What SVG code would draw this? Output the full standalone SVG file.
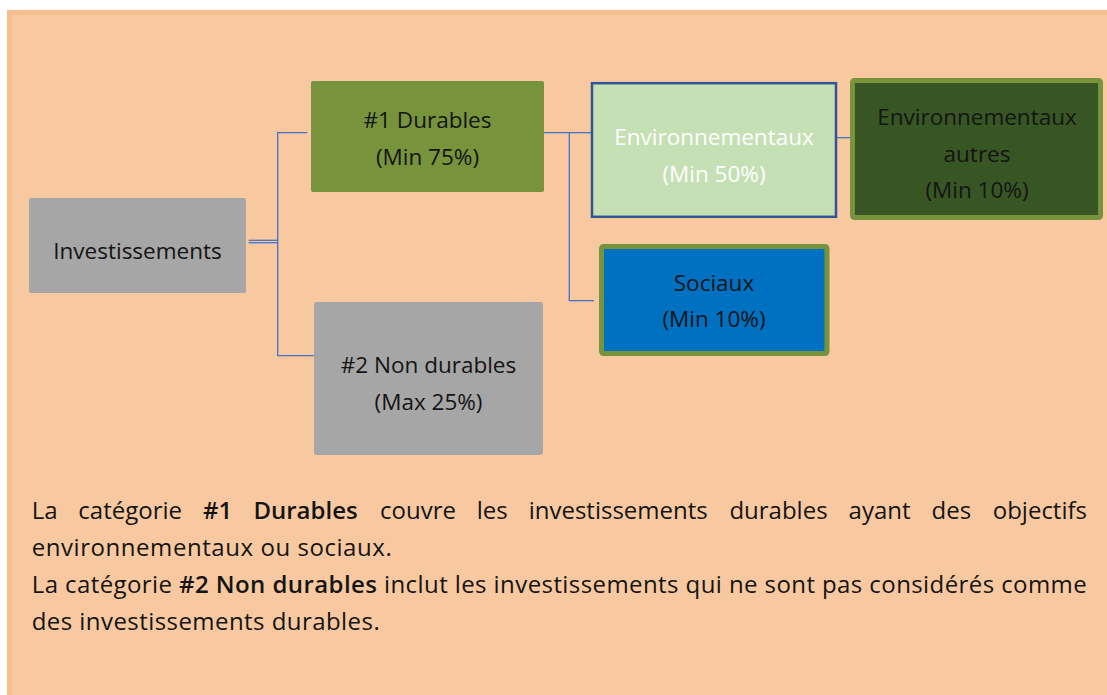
<svg xmlns="http://www.w3.org/2000/svg" width="1107" height="695" viewBox="0 0 1107 695">
<style>
  .t { font-family: "Open Sans", "Noto Sans", "Liberation Sans", sans-serif; font-size: 22.5px; fill: #141414; text-anchor: middle; }
  .w { fill: #FFFFFF; }
  .p { font-family: "Open Sans", "Noto Sans", "Liberation Sans", sans-serif; font-size: 24px; fill: #141414; }
  .b { font-weight: 600; }
  .c { fill: none; stroke: #4472C4; stroke-width: 1.3; }
</style>
<rect x="0" y="0" width="1107" height="695" fill="#FFFFFF"/>
<rect x="9.5" y="12.5" width="1102" height="690" fill="#F8C9A0" stroke="#F7BE8F" stroke-width="5"/>

<g id="connectors">
  <line class="c" x1="248.7" y1="240.3" x2="277.7" y2="240.3"/>
  <line class="c" x1="248.7" y1="242.7" x2="277.7" y2="242.7"/>
  <polyline class="c" points="307.3,132.7 277.7,132.7 277.7,355.7 315,355.7"/>
  <line class="c" x1="544" y1="132.7" x2="591" y2="132.7"/>
  <polyline class="c" points="569.3,132.7 569.3,300.7 594,300.7"/>
  <line class="c" x1="837" y1="137.7" x2="850" y2="137.7"/>
</g>

<g id="investissements">
  <rect x="29" y="198" width="217" height="95" rx="2" fill="#A6A6A6"/>
  <text class="t" x="137.5" y="259">Investissements</text>
</g>

<g id="durables">
  <rect x="311" y="81" width="233" height="111" rx="2" fill="#77933C"/>
  <text class="t" x="427.5" y="128">#1 Durables</text>
  <text class="t" x="427.5" y="165">(Min 75%)</text>
</g>

<g id="non-durables">
  <rect x="314" y="302" width="229" height="153" rx="3" fill="#A6A6A6"/>
  <text class="t" x="428.5" y="373">#2 Non durables</text>
  <text class="t" x="428.5" y="410">(Max 25%)</text>
</g>

<g id="environnementaux">
  <rect x="592" y="83.2" width="244" height="133.6" fill="#C5E0B4" stroke="#2F5597" stroke-width="2.5"/>
  <text class="t w" x="714" y="145">Environnementaux</text>
  <text class="t w" x="714" y="181.5">(Min 50%)</text>
</g>

<g id="environnementaux-autres">
  <rect x="852.5" y="80.5" width="248" height="137" rx="2" fill="#375623" stroke="#77933C" stroke-width="5"/>
  <text class="t" x="977" y="125">Environnementaux</text>
  <text class="t" x="977" y="162">autres</text>
  <text class="t" x="977" y="198">(Min 10%)</text>
</g>

<g id="sociaux">
  <rect x="601.5" y="246.5" width="225.5" height="107" rx="2" fill="#0070C0" stroke="#77933C" stroke-width="5"/>
  <text class="t" x="714" y="290.7">Sociaux</text>
  <text class="t" x="714" y="327">(Min 10%)</text>
</g>

<g id="description">
  <text class="p" y="519">
    <tspan x="31.7">La</tspan>
    <tspan x="78.3">catégorie</tspan>
    <tspan x="203" class="b">#1</tspan>
    <tspan x="253.4" class="b">Durables</tspan>
    <tspan x="380">couvre</tspan>
    <tspan x="476.7">les</tspan>
    <tspan x="528.7">investissements</tspan>
    <tspan x="729.4">durables</tspan>
    <tspan x="848.6">ayant</tspan>
    <tspan x="931.5">des</tspan>
  </text>
  <text class="p" x="1087" y="519" text-anchor="end">objectifs</text>
  <text class="p" x="31.7" y="556" textLength="360" lengthAdjust="spacing">environnementaux ou sociaux.</text>
  <text class="p" x="31.7" y="593" textLength="1055" lengthAdjust="spacing">La catégorie <tspan class="b">#2 Non durables</tspan> inclut les investissements qui ne sont pas considérés comme</text>
  <text class="p" x="31.7" y="630" textLength="348" lengthAdjust="spacing">des investissements durables.</text>
</g>
</svg>
